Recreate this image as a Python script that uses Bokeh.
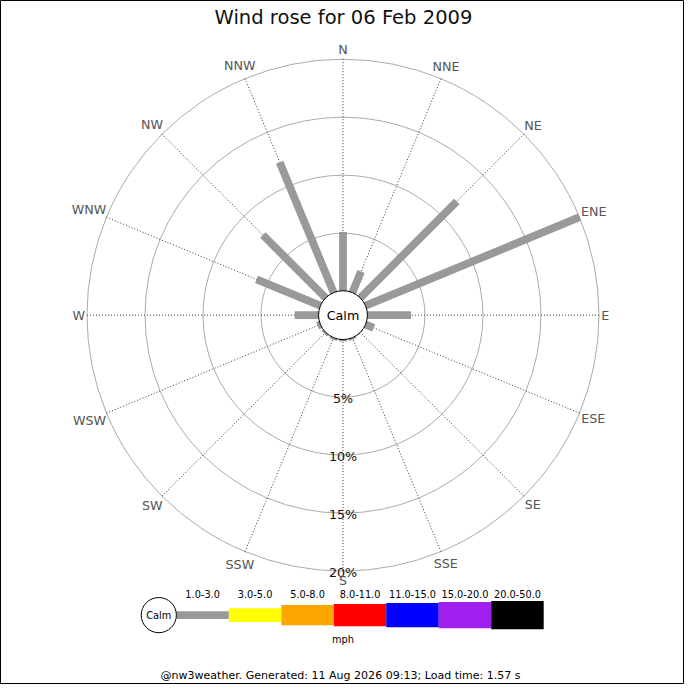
import numpy as np
from bokeh.plotting import figure
from bokeh.models import Range1d, ColumnDataSource
from bokeh.embed import file_html
from bokeh.resources import INLINE
from bokeh.core.properties import value

# ---------------- data ----------------
title_text = "Wind rose for 06 Feb 2009"
directions = ["N", "NNE", "NE", "ENE", "E", "ESE", "SE", "SSE",
              "S", "SSW", "SW", "WSW", "W", "WNW", "NW", "NNW"]
freq_pct = [5.1, 2.0, 11.8, 20.0, 3.8, 0.8, 0.1, 0.2,
            0.2, 0.2, 0.2, 0.3, 2.1, 6.0, 7.7, 12.2]
ring_pct = [5, 10, 15, 20]
ring_labels = ["5%", "10%", "15%", "20%"]
legend_labels = ["1.0-3.0", "3.0-5.0", "5.0-8.0", "8.0-11.0",
                 "11.0-15.0", "15.0-20.0", "20.0-50.0"]
legend_colors = ["#999999", "#ffff00", "#ffa500", "#ff0000",
                 "#0000ff", "#a020f0", "#000000"]
unit_label = "mph"
calm_label = "Calm"
footer_text = "@nw3weather. Generated: 11 Aug 2026 09:13; Load time: 1.57 s"

# ---------------- layout / scale ----------------
W = H = 684
REF = 700.0
SC = W / REF                   # screen px per layout unit
CX, CY = 350.5, 322.0          # rose centre in layout units
R0 = 24.5                      # radius of 0 %
RMAX = 262.0                   # radius of max ring
PMAX = max(ring_pct)
K = (RMAX - R0) / PMAX         # layout units per percent
FONT = value("DejaVu Sans")


def fsz(v):
    return "%.2fpx" % (v * SC)


def rad(p):
    return R0 + np.asarray(p, dtype=float) * K


def px(xref):
    return np.asarray(xref, dtype=float) - CX


def py(yref):
    return CY - np.asarray(yref, dtype=float)


p = figure(width=W, height=H, x_range=Range1d(0 - CX, REF - CX),
           y_range=Range1d(CY - REF, CY),
           x_axis_type=None, y_axis_type=None, toolbar_location=None,
           output_backend="svg", min_border=0,
           background_fill_color="white", border_fill_color="white")
p.outline_line_color = "black"
p.outline_line_width = 1
p.grid.visible = False

n = len(directions)
theta = np.deg2rad(np.arange(n) * 360.0 / n)
s, c = np.sin(theta), np.cos(theta)

# rings
p.circle(x=[0] * len(ring_pct), y=[0] * len(ring_pct), radius=rad(ring_pct),
         fill_color=None, line_color="#aaaaaa", line_width=1)

# spokes
p.segment(x0=R0 * s, y0=R0 * c, x1=RMAX * s, y1=RMAX * c,
          line_color="#222222", line_width=0.9, line_dash="1 2")

# bars
r1 = rad(freq_pct)
p.segment(x0=R0 * s, y0=R0 * c, x1=r1 * s, y1=r1 * c,
          line_color=legend_colors[0], line_width=8 * SC, line_cap="butt")

# calm circle
p.circle(x=[0], y=[0], radius=[25], fill_color="white", line_color="black",
         line_width=1)
p.text(x=[0], y=[0], text=[calm_label], text_font=FONT, text_font_size=fsz(13),
       text_align="center", text_baseline="middle", text_color="#000000")

# ring labels
p.text(x=[0] * len(ring_pct), y=-rad(ring_pct) - 1.5, text=ring_labels,
       text_font=FONT, text_font_size=fsz(13), text_align="center",
       text_baseline="middle", text_color="#111111")

# compass labels
cw = {"N": 0.75, "E": 0.63, "S": 0.635, "W": 0.99}
fs = 13.0
hw = np.array([sum(cw[ch] for ch in d) * fs / 2 for d in directions])
rl = 265 + 0.85 * hw * np.abs(s) + 6.5 * np.abs(c)
p.text(x=rl * s, y=rl * c, text=directions, text_font=FONT,
       text_font_size=fsz(13), text_align="center", text_baseline="middle",
       text_color="#555555")

# title
p.text(x=[px(351)], y=[py(17)], text=[title_text], text_font=FONT,
       text_font_size=fsz(20), text_align="center", text_baseline="middle",
       text_color="#111111")

# legend
LX0, LW, LY = 180.0, 53.7, 629.0
heights = [8, 14, 20.7, 22.7, 25, 27, 29]
m = len(legend_labels)
lefts = np.array([LX0 + i * LW for i in range(m)])
src = ColumnDataSource(dict(
    left=px(lefts), right=px(lefts + LW),
    top=[float(py(LY - h / 2)) for h in heights],
    bottom=[float(py(LY + h / 2)) for h in heights],
    color=legend_colors))
p.quad(left="left", right="right", top="top", bottom="bottom",
       fill_color="color", line_color=None, source=src)
p.text(x=px(lefts + LW / 2), y=[float(py(607.7))] * m, text=legend_labels,
       text_font=FONT, text_font_size=fsz(10), text_align="center",
       text_baseline="middle", text_color="#000000")
p.circle(x=[float(px(162))], y=[float(py(LY))], radius=[18], fill_color="white",
         line_color="black", line_width=1)
p.text(x=[float(px(162))], y=[float(py(LY))], text=[calm_label], text_font=FONT,
       text_font_size=fsz(10), text_align="center", text_baseline="middle",
       text_color="#000000")
p.text(x=[float(px(350.5))], y=[float(py(654))], text=[unit_label], text_font=FONT,
       text_font_size=fsz(10), text_align="center", text_baseline="middle",
       text_color="#000000")

# footer
p.text(x=[float(px(348))], y=[float(py(690.5))], text=[footer_text], text_font=FONT,
       text_font_size=fsz(11.3), text_align="center", text_baseline="middle",
       text_color="#000000")

open("out.html", "w").write(file_html(p, INLINE))
